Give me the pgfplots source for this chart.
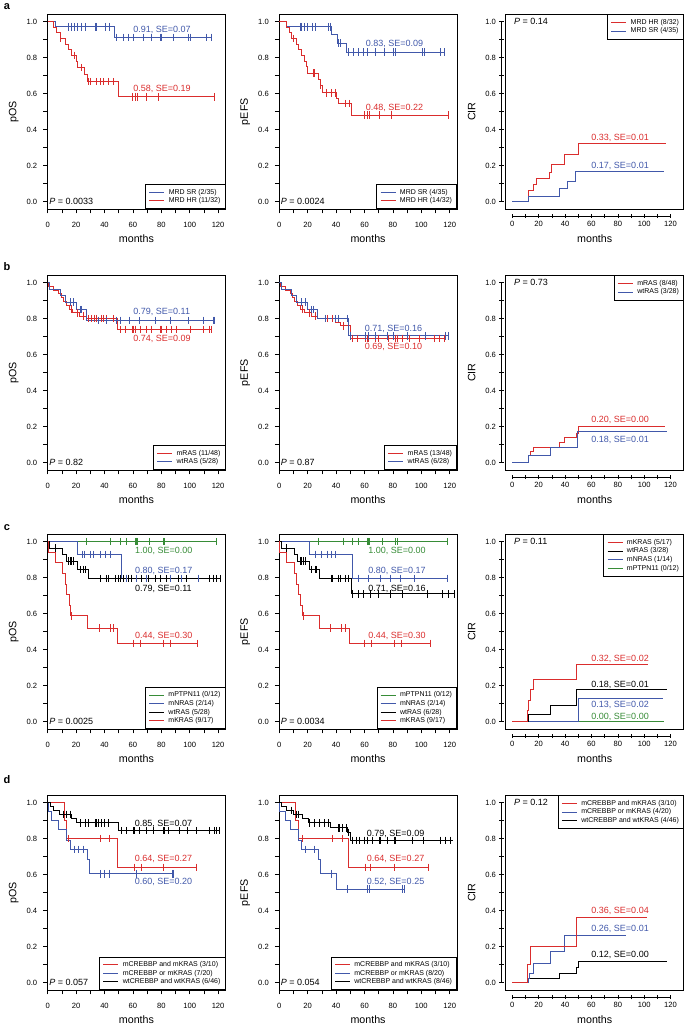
\documentclass[border=0pt]{standalone}
\usepackage{pgfplots}
\pgfplotsset{compat=1.18}
\usepackage{fontspec}
\setmainfont{Liberation Sans}
\definecolor{kmred}{RGB}{218,45,45}
\definecolor{kmblue}{RGB}{65,88,170}
\definecolor{kmgreen}{RGB}{55,140,55}
\newcommand\tickfont{\fontsize{7.6}{9}\selectfont}
\newcommand\labfont{\fontsize{10.7}{12}\selectfont}
\newcommand\annfont{\fontsize{9}{10}\selectfont}
\newcommand\legfont{\fontsize{7}{8}\selectfont}
\tikzset{ann/.style={anchor=west, inner sep=0pt, font=\annfont}}
\pgfplotsset{
 base/.style={
   scale only axis, height=194.4pt, clip=false,
   ymin=-0.04, ymax=1.04,
   ytick={0,0.2,0.4,0.6,0.8,1}, minor ytick={0.1,0.3,0.5,0.7,0.9},
   xtick={0,20,40,60,80,100,120}, minor xtick={10,30,50,70,90,110},
   tick align=outside, tick pos=left,
   major tick length=4.5pt, minor tick length=4.5pt,
   every tick/.style={black, line width=0.5pt},
   ticklabel style={font=\tickfont},
   /pgf/number format/assume math mode=true,
   yticklabel style={/pgf/number format/fixed, /pgf/number format/fixed zerofill, /pgf/number format/precision=1},
   legend cell align=left,
   legend style={font=\legfont, draw=black, line width=0.5pt, inner xsep=3.5pt, inner ysep=3.5pt, column sep=3pt, nodes={inner sep=1pt}},
   legend image code/.code={\draw[#1, line width=0.8pt] (0pt,0pt) -- (15pt,0pt);},
   axis line style={line width=0.6pt},
 },
 km/.style={base, width=177.5pt, xmin=0, xmax=125,
   xticklabel style={yshift=-5.5pt}, yticklabel style={xshift=-2.5pt},
   legend style={at={(rel axis cs:1,0)}, anchor=south east}},
 cir/.style={base, width=178pt, xmin=-5, xmax=130, axis x line=bottom, axis y line=left,
   axis x line shift=7pt, axis y line shift=4pt, axis line style={draw=none},
   legend style={at={(rel axis cs:1,1)}, anchor=north east}},
 curve/.style={const plot, line width=0.9pt, no marks, forget plot},
 cens/.style={only marks, mark=|, mark size=3.8pt, mark options={line width=0.6pt, solid}, forget plot},
}
\newcommand\kmlabels[1]{%
  \node[font=\labfont] at ([yshift=-29.5pt]rel axis cs:0.5,0) {months};
  \node[font=\labfont, rotate=90] at ([xshift=-34pt]rel axis cs:0,0.5) {#1};}
\newcommand\cirlabels{%
  \draw[line width=0.6pt] (rel axis cs:0,0) rectangle (rel axis cs:1,1);
  \draw[line width=0.5pt] ([yshift=-7pt]axis cs:0,-0.04) -- ([yshift=-7pt]axis cs:120,-0.04);
  \draw[line width=0.5pt] ([xshift=-4pt]axis cs:-5,0) -- ([xshift=-4pt]axis cs:-5,1);
  \node[font=\labfont] at ([yshift=-29.5pt]rel axis cs:0.5,0) {months};
  \node[font=\labfont, rotate=90] at ([xshift=-34pt]rel axis cs:0,0.5) {CIR};}
\newcommand\Pkm[1]{\node[ann] at (axis cs:1,0) {\textit{P} = #1};}
\newcommand\Pcir[1]{\node[ann] at (axis cs:1.3,1.0) {\textit{P} = #1};}
\begin{document}
\begin{tikzpicture}
% ================= ROW a =================
\begin{axis}[km, at={(47.7pt,816.1pt)}, anchor=south west]
\addplot[kmblue,curve] coordinates {(0,1)(5.2,0.972)(47.3,0.913)(115.3,0.913)};
\addplot[kmblue,cens] coordinates {(14.5,0.972)(16.4,0.972)(18.5,0.972)(20.6,0.972)(23.9,0.972)(26.5,0.972)(33.3,0.972)(34.5,0.972)(40.5,0.972)(43.5,0.972)
 (48.0,0.913)(53.2,0.913)(56.7,0.913)(60.2,0.913)(67.3,0.913)(73.1,0.913)(79.0,0.913)(80.2,0.913)(88.4,0.913)(98.9,0.913)(100.1,0.913)(111.8,0.913)(115.3,0.913)};
\addplot[kmred,curve] coordinates {(0,1)(4.0,0.969)(6.3,0.938)(8.7,0.906)(12.2,0.875)(14.5,0.844)(16.4,0.812)(19.9,0.78)(20.9,0.745)(26.2,0.706)(27.9,0.667)(49.7,0.583)(117.6,0.583)};
\addplot[kmred,cens] coordinates {(8.9,0.906)(18.5,0.812)(23.9,0.745)(28.6,0.667)(30.2,0.667)(34.5,0.667)(36.8,0.667)(39.1,0.667)(42.7,0.667)(46.2,0.667)
 (59.8,0.583)(61.4,0.583)(63.3,0.583)(69.6,0.583)(77.8,0.583)(117.6,0.583)};
\addlegendimage{kmblue}\addlegendentry{MRD SR (2/35)}
\addlegendimage{kmred}\addlegendentry{MRD HR (11/32)}
\node[ann,text=kmblue] at (axis cs:60.2,0.953) {0.91, SE=0.07};
\node[ann,text=kmred] at (axis cs:60.2,0.624) {0.58, SE=0.19};
\Pkm{0.0033}
\kmlabels{pOS}
\end{axis}
\begin{axis}[km, at={(279.3pt,816.1pt)}, anchor=south west]
\addplot[kmblue,curve] coordinates {(0,1)(4.7,0.972)(36.5,0.93)(41.0,0.88)(47.6,0.83)(116.5,0.83)};
\addplot[kmblue,cens] coordinates {(14.6,0.972)(15.8,0.972)(17.7,0.972)(20.0,0.972)(22.9,0.972)(25.2,0.972)(34.7,0.972)(35.8,0.972)(41.7,0.88)(43.1,0.88)
 (48.8,0.83)(52.3,0.83)(55.9,0.83)(59.4,0.83)(61.8,0.83)(67.7,0.83)(73.6,0.83)(80.6,0.83)(81.8,0.83)(100.7,0.83)(101.8,0.83)(113.6,0.83)(116.0,0.83)};
\addplot[kmred,curve] coordinates {(0,1)(4.7,0.969)(6.8,0.938)(8.7,0.906)(11.8,0.875)(13.4,0.844)(15.3,0.812)(17.4,0.78)(19.3,0.75)(20.0,0.715)(27.6,0.68)(28.8,0.645)(30.4,0.605)(40.5,0.575)(41.7,0.545)(50.7,0.48)(119.0,0.48)};
\addplot[kmred,cens] coordinates {(9.9,0.906)(24.0,0.715)(24.8,0.715)(29.2,0.645)(32.8,0.605)(36.3,0.605)(39.4,0.605)(46.4,0.545)(49.3,0.545)
 (60.1,0.48)(61.8,0.48)(63.4,0.48)(70.5,0.48)(78.7,0.48)(119.0,0.48)};
\addlegendimage{kmblue}\addlegendentry{MRD SR (4/35)}
\addlegendimage{kmred}\addlegendentry{MRD HR (14/32)}
\node[ann,text=kmblue] at (axis cs:60.8,0.874) {0.83, SE=0.09};
\node[ann,text=kmred] at (axis cs:60.8,0.519) {0.48, SE=0.22};
\Pkm{0.0024}
\kmlabels{pEFS}
\end{axis}
\begin{axis}[cir, at={(505.7pt,816.1pt)}, anchor=south west]
\addplot[kmred,curve] coordinates {(0,0)(11.9,0.032)(12.4,0.065)(15.7,0.097)(18.2,0.13)(28.3,0.165)(29.6,0.205)(39.7,0.26)(49.8,0.325)(116.7,0.325)};
\addplot[kmblue,curve] coordinates {(0,0)(11.9,0.03)(35.9,0.073)(42.2,0.115)(47.8,0.17)(115,0.17)};
\addlegendimage{kmred}\addlegendentry{MRD HR (8/32)}
\addlegendimage{kmblue}\addlegendentry{MRD SR (4/35)}
\node[ann,text=kmred] at (axis cs:59.9,0.356) {0.33, SE=0.01};
\node[ann,text=kmblue] at (axis cs:59.9,0.2) {0.17, SE=0.01};
\Pcir{0.14}
\cirlabels
\end{axis}
% ================= ROW b =================
\begin{axis}[km, at={(47.7pt,555.1pt)}, anchor=south west]
\addplot[kmred,curve] coordinates {(0,1)(0.5,0.979)(4.0,0.958)(7.5,0.938)(9.5,0.917)(11.0,0.896)(13.0,0.875)(15.0,0.854)(17.5,0.833)(22.3,0.815)(27.0,0.80)(49.2,0.74)(115.5,0.74)};
\addplot[kmred,cens] coordinates {(16.4,0.854)(20.9,0.833)(25.1,0.815)(28.6,0.80)(30.9,0.80)(32.8,0.80)(34.4,0.80)(38.0,0.80)(39.1,0.80)(41.0,0.80)(46.2,0.80)
 (50.9,0.74)(54.4,0.74)(59.8,0.74)(60.2,0.74)(61.4,0.74)(64.9,0.74)(69.6,0.74)(73.1,0.74)(79.0,0.74)(80.2,0.74)(83.7,0.74)(87.2,0.74)(90.7,0.74)(100.1,0.74)(109.4,0.74)(114.1,0.74)(115.3,0.74)};
\addplot[kmblue,curve] coordinates {(0,1)(1.2,0.964)(8.7,0.929)(12.2,0.893)(19.9,0.85)(27.0,0.79)(117.6,0.79)};
\addplot[kmblue,cens] coordinates {(15.7,0.893)(18.0,0.893)(22.7,0.85)(23.9,0.85)(35.6,0.79)(41.5,0.79)(48.5,0.79)(50.9,0.79)(57.4,0.79)(64.4,0.79)(75.5,0.79)(86.0,0.79)(98.9,0.79)(109.4,0.79)(116.5,0.79)(117.6,0.79)};
\addlegendimage{kmred}\addlegendentry{mRAS (11/48)}
\addlegendimage{kmblue}\addlegendentry{wtRAS (5/28)}
\node[ann,text=kmblue] at (axis cs:60.2,0.835) {0.79, SE=0.11};
\node[ann,text=kmred] at (axis cs:60.2,0.69) {0.74, SE=0.09};
\Pkm{0.82}
\kmlabels{pOS}
\end{axis}
\begin{axis}[km, at={(279.3pt,555.1pt)}, anchor=south west]
\addplot[kmred,curve] coordinates {(0,1)(0.5,0.979)(4.0,0.958)(7.5,0.938)(9.5,0.917)(11.0,0.896)(13.0,0.875)(15.0,0.854)(17.5,0.833)(22.3,0.815)(27.0,0.80)(39.4,0.78)(42.9,0.76)(50.0,0.69)(116.5,0.69)};
\addplot[kmred,cens] coordinates {(16.4,0.854)(20.9,0.833)(25.1,0.815)(32.3,0.80)(33.9,0.80)(37.0,0.80)(45.3,0.76)
 (51.2,0.69)(54.7,0.69)(60.6,0.69)(61.8,0.69)(62.9,0.69)(67.7,0.69)(70.0,0.69)(77.1,0.69)(81.8,0.69)(83.0,0.69)(86.5,0.69)(91.2,0.69)(98.3,0.69)(108.9,0.69)(112.4,0.69)(116.0,0.69)};
\addplot[kmblue,curve] coordinates {(0,1)(1.2,0.964)(8.7,0.929)(12.2,0.893)(19.9,0.85)(27.0,0.80)(48.8,0.705)(119,0.705)};
\addplot[kmblue,cens] coordinates {(15.7,0.893)(18.0,0.893)(22.7,0.85)(23.9,0.85)(32.3,0.80)(39.4,0.80)(41.7,0.80)(47.6,0.80)
 (50.0,0.705)(60.6,0.705)(62.9,0.705)(67.7,0.705)(75.9,0.705)(80.6,0.705)(90.1,0.705)(103.0,0.705)(117.2,0.705)(119.0,0.705)};
\addlegendimage{kmred}\addlegendentry{mRAS (13/48)}
\addlegendimage{kmblue}\addlegendentry{wtRAS (6/28)}
\node[ann,text=kmblue] at (axis cs:60.1,0.743) {0.71, SE=0.16};
\node[ann,text=kmred] at (axis cs:60.1,0.645) {0.69, SE=0.10};
\Pkm{0.87}
\kmlabels{pEFS}
\end{axis}
\begin{axis}[cir, at={(505.7pt,555.1pt)}, anchor=south west]
\addplot[kmred,curve] coordinates {(0,0)(11.9,0.02)(12.4,0.04)(13.9,0.065)(16.4,0.085)(35.9,0.11)(39.7,0.14)(48.5,0.165)(49.8,0.20)(115.5,0.20)};
\addplot[kmblue,curve] coordinates {(0,0)(11.9,0.04)(29.0,0.087)(49.3,0.176)(117,0.176)};
\addlegendimage{kmred}\addlegendentry{mRAS (8/48)}
\addlegendimage{kmblue}\addlegendentry{wtRAS (3/28)}
\node[ann,text=kmred] at (axis cs:59.9,0.237) {0.20, SE=0.00};
\node[ann,text=kmblue] at (axis cs:59.9,0.126) {0.18, SE=0.01};
\Pcir{0.73}
\cirlabels
\end{axis}
% ================= ROW c =================
\begin{axis}[km, at={(47.7pt,296.1pt)}, anchor=south west]
\addplot[kmgreen,curve] coordinates {(0,1)(118.7,1)};
\addplot[kmgreen,cens] coordinates {(27.4,1)(43.8,1)(50.8,1)(55.5,1)(61.4,1)(62.1,1)(63.0,1)(71.9,1)(81.3,1)(82.4,1)(118.7,1)};
\addplot[kmblue,curve] coordinates {(0,1)(20.9,0.929)(52.0,0.796)(116.5,0.796)};
\addplot[kmblue,cens] coordinates {(24.6,0.929)(25.5,0.929)(29.8,0.929)(32.1,0.929)(36.8,0.929)(40.3,0.929)(43.8,0.929)
 (55.5,0.796)(59.1,0.796)(62.6,0.796)(69.6,0.796)(79.0,0.796)(86.0,0.796)(94.2,0.796)(105.9,0.796)(116.5,0.796)};
\addplot[black,curve] coordinates {(0,1)(1.2,0.964)(10.5,0.929)(12.9,0.893)(21.1,0.845)(28.6,0.795)(121.2,0.795)};
\addplot[black,cens] coordinates {(5.2,0.964)(14.5,0.893)(15.7,0.893)(16.9,0.893)(18.0,0.893)(22.7,0.845)(25.1,0.845)(26.2,0.845)
 (36.8,0.795)(41.5,0.795)(42.7,0.795)(47.3,0.795)(49.7,0.795)(50.9,0.795)(53.2,0.795)(56.7,0.795)(59.1,0.795)(66.1,0.795)(70.8,0.795)(75.5,0.795)(79.0,0.795)(83.7,0.795)(91.9,0.795)(97.7,0.795)(114.1,0.795)(116.5,0.795)(118.8,0.795)(121.2,0.795)};
\addplot[kmred,curve] coordinates {(0,1)(0.3,0.941)(5.2,0.882)(10.5,0.824)(12.2,0.765)(13.4,0.706)(15.0,0.647)(16.2,0.588)(27.9,0.52)(49.0,0.435)(105.2,0.435)};
\addplot[kmred,cens] coordinates {(16.9,0.588)(36.1,0.52)(43.8,0.52)(46.2,0.52)(60.2,0.435)(64.9,0.435)(81.3,0.435)(86.0,0.435)(105.2,0.435)};
\addlegendimage{kmgreen}\addlegendentry{mPTPN11 (0/12)}
\addlegendimage{kmblue}\addlegendentry{mNRAS (2/14)}
\addlegendimage{black}\addlegendentry{wtRAS (5/28)}
\addlegendimage{kmred}\addlegendentry{mKRAS (9/17)}
\node[ann,text=kmgreen] at (axis cs:61.4,0.95) {1.00, SE=0.00};
\node[ann,text=kmblue] at (axis cs:61.4,0.837) {0.80, SE=0.17};
\node[ann,text=black] at (axis cs:61.4,0.74) {0.79, SE=0.11};
\node[ann,text=kmred] at (axis cs:61.4,0.477) {0.44, SE=0.30};
\Pkm{0.0025}
\kmlabels{pOS}
\end{axis}
\begin{axis}[km, at={(279.3pt,296.1pt)}, anchor=south west]
\addplot[kmgreen,curve] coordinates {(0,1)(118.3,1)};
\addplot[kmgreen,cens] coordinates {(27.6,1)(45.3,1)(51.2,1)(55.9,1)(61.8,1)(62.9,1)(63.4,1)(72.4,1)(81.8,1)(83.0,1)(118.3,1)};
\addplot[kmblue,curve] coordinates {(0,1)(21.2,0.929)(51.6,0.796)(118.3,0.796)};
\addplot[kmblue,cens] coordinates {(25.2,0.929)(25.7,0.929)(29.9,0.929)(33.5,0.929)(36.5,0.929)(39.4,0.929)
 (55.9,0.796)(62.9,0.796)(71.2,0.796)(78.3,0.796)(85.3,0.796)(94.8,0.796)(118.3,0.796)};
\addplot[black,curve] coordinates {(0,1)(1.2,0.964)(10.5,0.929)(12.9,0.893)(21.1,0.845)(28.6,0.795)(50.6,0.71)(123,0.71)};
\addplot[black,cens] coordinates {(5.2,0.964)(14.5,0.893)(15.7,0.893)(16.9,0.893)(18.0,0.893)(22.7,0.845)(25.1,0.845)(26.2,0.845)
 (36.5,0.795)(37.0,0.795)(41.7,0.795)(42.9,0.795)(46.4,0.795)(48.8,0.795)
 (51.2,0.71)(55.9,0.71)(59.4,0.71)(64.1,0.71)(70.0,0.71)(78.3,0.71)(86.5,0.71)(104.2,0.71)(114.8,0.71)(119.0,0.71)(123,0.71)};
\addplot[kmred,curve] coordinates {(0,1)(0.3,0.941)(5.2,0.882)(10.5,0.824)(12.2,0.765)(13.4,0.706)(15.0,0.647)(16.2,0.588)(28.0,0.52)(49.2,0.435)(106,0.435)};
\addplot[kmred,cens] coordinates {(16.9,0.588)(36.1,0.52)(43.8,0.52)(46.2,0.52)(60.2,0.435)(64.9,0.435)(81.3,0.435)(86.0,0.435)(106,0.435)};
\addlegendimage{kmgreen}\addlegendentry{mPTPN11 (0/12)}
\addlegendimage{kmblue}\addlegendentry{mNRAS (2/14)}
\addlegendimage{black}\addlegendentry{wtRAS (6/28)}
\addlegendimage{kmred}\addlegendentry{mKRAS (9/17)}
\node[ann,text=kmgreen] at (axis cs:62.5,0.95) {1.00, SE=0.00};
\node[ann,text=kmblue] at (axis cs:62.5,0.837) {0.80, SE=0.17};
\node[ann,text=black] at (axis cs:62.5,0.74) {0.71, SE=0.16};
\node[ann,text=kmred] at (axis cs:62.5,0.475) {0.44, SE=0.30};
\Pkm{0.0034}
\kmlabels{pEFS}
\end{axis}
\begin{axis}[cir, at={(505.7pt,296.1pt)}, anchor=south west]
\addplot[kmgreen,curve] coordinates {(0,0)(115,0)};
\addplot[kmblue,curve] coordinates {(0,0)(49.8,0.13)(114.2,0.13)};
\addplot[black,curve] coordinates {(0,0)(11.9,0.04)(29.0,0.09)(48.5,0.18)(117,0.18)};
\addplot[kmred,curve] coordinates {(0,0)(11.4,0.06)(12.4,0.12)(13.9,0.18)(15.7,0.235)(48.5,0.32)(102.8,0.32)};
\addlegendimage{kmred}\addlegendentry{mKRAS (5/17)}
\addlegendimage{black}\addlegendentry{wtRAS (3/28)}
\addlegendimage{kmblue}\addlegendentry{mNRAS (1/14)}
\addlegendimage{kmgreen}\addlegendentry{mPTPN11 (0/12)}
\node[ann,text=kmred] at (axis cs:59.9,0.35) {0.32, SE=0.02};
\node[ann,text=black] at (axis cs:59.9,0.207) {0.18, SE=0.01};
\node[ann,text=kmblue] at (axis cs:59.9,0.093) {0.13, SE=0.02};
\node[ann,text=kmgreen] at (axis cs:59.9,0.028) {0.00, SE=0.00};
\Pcir{0.11}
\cirlabels
\end{axis}
% ================= ROW d =================
\begin{axis}[km, at={(47.7pt,35.1pt)}, anchor=south west]
\addplot[kmred,curve] coordinates {(0,1)(11.7,0.90)(13.3,0.80)(48.8,0.64)(104.9,0.64)};
\addplot[kmred,cens] coordinates {(14.5,0.8)(36.7,0.8)(43.7,0.8)(61.2,0.64)(65.9,0.64)(81.1,0.64)(104.9,0.64)};
\addplot[kmblue,curve] coordinates {(0,1)(0.3,0.95)(2.8,0.90)(7.5,0.85)(13.3,0.79)(15.7,0.74)(27.8,0.685)(29.2,0.605)(88.6,0.605)};
\addplot[kmblue,cens] coordinates {(18.5,0.74)(21.5,0.74)(25.0,0.74)(36.7,0.605)(40.2,0.605)(43.7,0.605)(62.4,0.605)(87.6,0.605)(88.6,0.605)};
\addplot[black,curve] coordinates {(0,1)(1.6,0.978)(4.0,0.957)(8.6,0.935)(16.8,0.912)(20.3,0.888)(49.5,0.845)(120.8,0.845)};
\addplot[black,cens] coordinates {(11.0,0.935)(13.3,0.935)(15.7,0.935)
 (22.7,0.888)(26.2,0.888)(28.5,0.888)(33.2,0.888)(34.3,0.888)(35.5,0.888)(37.9,0.888)(40.2,0.888)(42.5,0.888)
 (51.9,0.845)(55.4,0.845)(60.0,0.845)(61.2,0.845)(64.7,0.845)(69.4,0.845)(74.1,0.845)(81.1,0.845)(82.2,0.845)(84.6,0.845)(92.8,0.845)(98.6,0.845)(104.4,0.845)(113.8,0.845)(117.3,0.845)(118.5,0.845)(120.8,0.845)};
\addlegendimage{kmred}\addlegendentry{mCREBBP and mKRAS (3/10)}
\addlegendimage{kmblue}\addlegendentry{mCREBBP or mKRAS (7/20)}
\addlegendimage{black}\addlegendentry{wtCREBBP and wtKRAS (6/46)}
\node[ann,text=black] at (axis cs:61.2,0.882) {0.85, SE=0.07};
\node[ann,text=kmred] at (axis cs:61.2,0.685) {0.64, SE=0.27};
\node[ann,text=kmblue] at (axis cs:61.2,0.561) {0.60, SE=0.20};
\Pkm{0.057}
\kmlabels{pOS}
\end{axis}
\begin{axis}[km, at={(279.3pt,35.1pt)}, anchor=south west]
\addplot[kmred,curve] coordinates {(0,1)(11.6,0.90)(13.3,0.80)(48.8,0.64)(104.7,0.64)};
\addplot[kmred,cens] coordinates {(16.0,0.8)(37.0,0.8)(44.7,0.8)(60.9,0.64)(64.4,0.64)(80.7,0.64)(104.7,0.64)};
\addplot[kmblue,curve] coordinates {(0,1)(0.3,0.95)(4.0,0.90)(7.5,0.85)(13.3,0.79)(15.7,0.74)(27.8,0.685)(29.2,0.605)(40.5,0.52)(88.6,0.52)};
\addplot[kmblue,cens] coordinates {(18.5,0.74)(24.9,0.74)(36.5,0.605)(48.1,0.52)(62.1,0.52)(63.3,0.52)(86.5,0.52)(87.7,0.52)};
\addplot[black,curve] coordinates {(0,1)(1.6,0.978)(5.1,0.957)(9.8,0.935)(16.0,0.912)(20.2,0.888)(36.0,0.86)(48.1,0.835)(50.0,0.79)(122,0.79)};
\addplot[black,cens] coordinates {(8.6,0.957)(12.1,0.935)(13.3,0.935)(21.4,0.888)(24.9,0.888)(28.4,0.888)(31.9,0.888)(34.2,0.888)(41.2,0.86)(42.3,0.86)(44.7,0.86)(47.0,0.86)(48.8,0.835)
 (51.6,0.79)(54.0,0.79)(56.3,0.79)(59.8,0.79)(62.1,0.79)(65.6,0.79)(70.2,0.79)(71.4,0.79)(76.0,0.79)(80.7,0.79)(81.9,0.79)(93.5,0.79)(101.6,0.79)(113.3,0.79)(116.7,0.79)(120.2,0.79)};
\addlegendimage{kmred}\addlegendentry{mCREBBP and mKRAS (3/10)}
\addlegendimage{kmblue}\addlegendentry{mCREBBP or mKRAS (8/20)}
\addlegendimage{black}\addlegendentry{wtCREBBP and wtKRAS (8/46)}
\node[ann,text=black] at (axis cs:61.6,0.825) {0.79, SE=0.09};
\node[ann,text=kmred] at (axis cs:61.6,0.685) {0.64, SE=0.27};
\node[ann,text=kmblue] at (axis cs:61.6,0.561) {0.52, SE=0.25};
\Pkm{0.054}
\kmlabels{pEFS}
\end{axis}
\begin{axis}[cir, at={(505.7pt,35.1pt)}, anchor=south west]
\addplot[black,curve] coordinates {(0,0)(11.9,0.025)(35.9,0.05)(48.5,0.085)(49.8,0.12)(117,0.12)};
\addplot[kmblue,curve] coordinates {(0,0)(12.4,0.025)(13.1,0.05)(15.7,0.105)(29.0,0.175)(39.7,0.26)(85.9,0.26)};
\addplot[kmred,curve] coordinates {(0,0)(11.4,0.10)(13.9,0.20)(48.5,0.36)(102.3,0.36)};
\addlegendimage{kmred}\addlegendentry{mCREBBP and mKRAS (3/10)}
\addlegendimage{kmblue}\addlegendentry{mCREBBP or mKRAS (4/20)}
\addlegendimage{black}\addlegendentry{wtCREBBP and wtKRAS (4/46)}
\node[ann,text=kmred] at (axis cs:59.9,0.397) {0.36, SE=0.04};
\node[ann,text=kmblue] at (axis cs:59.9,0.297) {0.26, SE=0.01};
\node[ann,text=black] at (axis cs:59.9,0.157) {0.12, SE=0.00};
\Pcir{0.12}
\cirlabels
\end{axis}
% panel letters
\node[font=\bfseries\fontsize{11}{13}\selectfont] at (7pt,1018pt) {a};
\node[font=\bfseries\fontsize{11}{13}\selectfont] at (7pt,758.5pt) {b};
\node[font=\bfseries\fontsize{11}{13}\selectfont] at (7pt,497pt) {c};
\node[font=\bfseries\fontsize{11}{13}\selectfont] at (7pt,245pt) {d};
\pgfresetboundingbox
\useasboundingbox (0pt,0pt) rectangle (685pt,1025pt);
\end{tikzpicture}
\end{document}
